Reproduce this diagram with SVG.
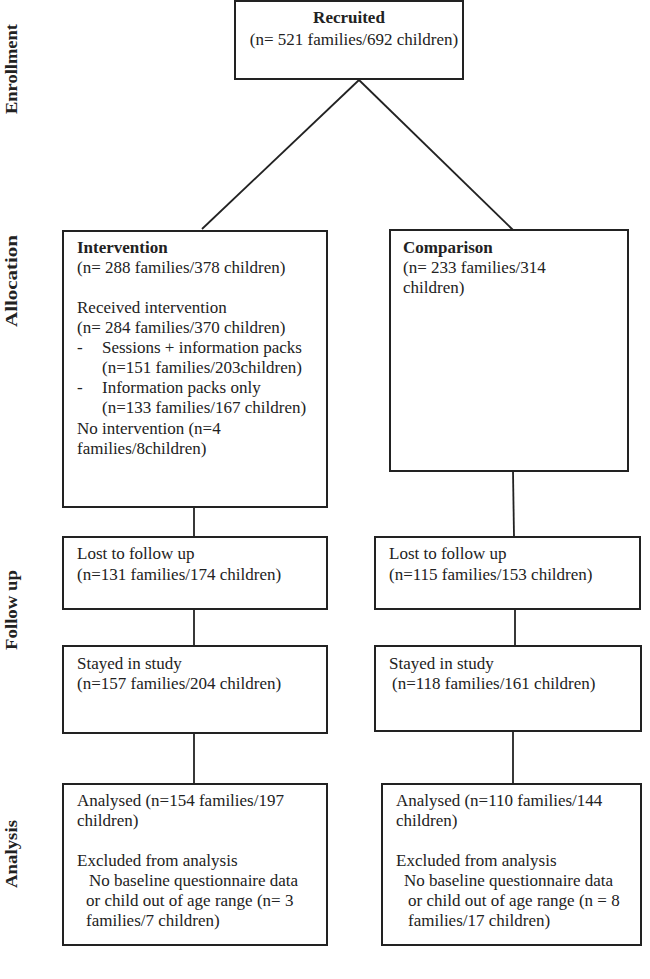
<svg xmlns="http://www.w3.org/2000/svg" width="650" height="979" viewBox="0 0 650 979">
<style>
.box{fill:#fff;stroke:#222;stroke-width:2}
.t{font-family:"Liberation Serif","Times New Roman",serif;font-size:17px;fill:#222}
.b{font-weight:bold}
.side{font-family:"Liberation Serif","Times New Roman",serif;font-size:17px;font-weight:bold;fill:#222}
.ln{stroke:#222;stroke-width:1.8;fill:none}
</style>
<rect width="650" height="979" fill="#fff"/>
<g id="labels">
<text class="side" transform="translate(17,69) rotate(-90)" text-anchor="middle" textLength="90" lengthAdjust="spacingAndGlyphs">Enrollment</text>
<text class="side" transform="translate(17,281) rotate(-90)" text-anchor="middle" textLength="92" lengthAdjust="spacingAndGlyphs">Allocation</text>
<text class="side" transform="translate(17,610) rotate(-90)" text-anchor="middle" textLength="80" lengthAdjust="spacingAndGlyphs">Follow up</text>
<text class="side" transform="translate(17,854) rotate(-90)" text-anchor="middle" textLength="68" lengthAdjust="spacingAndGlyphs">Analysis</text>
</g>
<g id="connectors">
<line class="ln" x1="359" y1="80" x2="202" y2="229"/>
<line class="ln" x1="359" y1="80" x2="513" y2="230"/>
<line class="ln" x1="194" y1="486" x2="194" y2="537"/>
<line class="ln" x1="194" y1="609" x2="194" y2="646"/>
<line class="ln" x1="194" y1="733" x2="194" y2="784"/>
<line class="ln" x1="513" y1="471" x2="514" y2="537"/>
<line class="ln" x1="515" y1="609" x2="515" y2="646"/>
<line class="ln" x1="513" y1="731" x2="513" y2="784"/>
</g>
<g id="recruited">
<rect class="box" x="235" y="1" width="228" height="78"/>
<text class="t b" x="349" y="23" text-anchor="middle">Recruited</text>
<text class="t" x="354" y="45" text-anchor="middle">(n= 521 families/692 children)</text>
</g>
<g id="intervention">
<rect class="box" x="63" y="231" width="264" height="276"/>
<text class="t b" x="77" y="253">Intervention</text>
<text class="t" x="77" y="273">(n= 288 families/378 children)</text>
<text class="t" x="77" y="313">Received intervention</text>
<text class="t" x="77" y="333">(n= 284 families/370 children)</text>
<text class="t" x="77" y="353">-</text>
<text class="t" x="102" y="353">Sessions + information packs</text>
<text class="t" x="102" y="373">(n=151 families/203children)</text>
<text class="t" x="77" y="393">-</text>
<text class="t" x="102" y="393">Information packs only</text>
<text class="t" x="102" y="413">(n=133 families/167 children)</text>
<text class="t" x="77" y="434">No intervention (n=4</text>
<text class="t" x="77" y="454">families/8children)</text>
</g>
<g id="comparison">
<rect class="box" x="390" y="230" width="238" height="241"/>
<text class="t b" x="403" y="253">Comparison</text>
<text class="t" x="403" y="273">(n= 233 families/314</text>
<text class="t" x="403" y="293">children)</text>
</g>
<g id="lost-int">
<rect class="box" x="63" y="537" width="264" height="72"/>
<text class="t" x="77" y="559">Lost to follow up</text>
<text class="t" x="77" y="580">(n=131 families/174 children)</text>
</g>
<g id="lost-comp">
<rect class="box" x="375" y="537" width="265" height="72"/>
<text class="t" x="389" y="559">Lost to follow up</text>
<text class="t" x="389" y="580">(n=115 families/153 children)</text>
</g>
<g id="stayed-int">
<rect class="box" x="63" y="646" width="264" height="87"/>
<text class="t" x="77" y="669">Stayed in study</text>
<text class="t" x="77" y="689">(n=157 families/204 children)</text>
</g>
<g id="stayed-comp">
<rect class="box" x="375" y="646" width="266" height="85"/>
<text class="t" x="389" y="669">Stayed in study</text>
<text class="t" x="392" y="689">(n=118 families/161 children)</text>
</g>
<g id="analysed-int">
<rect class="box" x="63" y="784" width="264" height="161"/>
<text class="t" x="77" y="806">Analysed (n=154 families/197</text>
<text class="t" x="77" y="826">children)</text>
<text class="t" x="77" y="866">Excluded from analysis</text>
<text class="t" x="89" y="886">No baseline questionnaire data</text>
<text class="t" x="86" y="906">or child out of age range (n= 3</text>
<text class="t" x="86" y="926">families/7 children)</text>
</g>
<g id="analysed-comp">
<rect class="box" x="382" y="784" width="259" height="161"/>
<text class="t" x="396" y="806">Analysed (n=110 families/144</text>
<text class="t" x="396" y="826">children)</text>
<text class="t" x="396" y="866">Excluded from analysis</text>
<text class="t" x="404" y="886">No baseline questionnaire data</text>
<text class="t" x="408" y="906">or child out of age range (n = 8</text>
<text class="t" x="408" y="926">families/17 children)</text>
</g>
</svg>
